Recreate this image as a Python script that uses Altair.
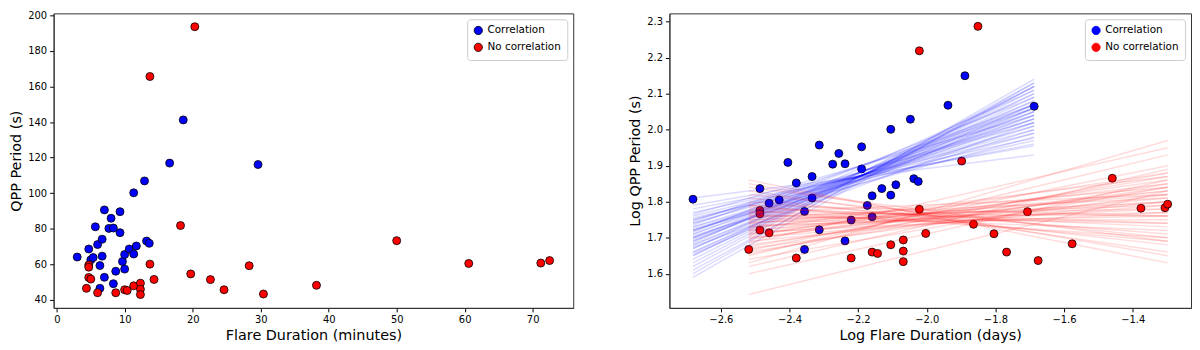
import altair as alt
import pandas as pd
import numpy as np

# ---- data ----
# Correlation group: flare duration (minutes), QPP period (s)
corr_min = [3.0, 4.7, 5.0, 5.35, 5.67, 6.0, 6.34, 6.34, 6.67, 6.67, 7.0, 7.0,
            7.66, 7.98, 8.32, 8.32, 8.67, 9.3, 9.3, 9.66, 9.98, 9.98, 10.65,
            11.31, 11.31, 11.7, 12.9, 13.2, 13.6, 16.6, 18.6, 29.6]
corr_sec = [64.1, 68.6, 62.5, 63.8, 81.1, 71.1, 59.3, 46.5, 74.1, 64.6, 90.6, 52.7,
            80.2, 85.9, 80.4, 49.1, 56.1, 89.6, 77.8, 61.6, 65.5, 57.3, 68.6,
            100.2, 65.8, 70.3, 106.9, 73.1, 71.8, 116.9, 141.2, 116.1]
# No-correlation group
nocorr_min = [4.36, 4.7, 5.0, 4.7, 4.7, 6.0, 8.67, 9.98, 10.35, 11.31, 12.3, 12.3,
              12.3, 13.7, 14.3, 13.7, 18.2, 19.7, 20.3, 22.6, 24.6, 28.3, 30.4,
              38.2, 50.0, 60.6, 71.2, 72.5]
nocorr_sec = [46.5, 52.6, 51.7, 59.6, 58.4, 44.0, 44.0, 45.7, 45.3, 47.9, 49.4, 46.0,
              43.0, 60.1, 51.5, 165.6, 81.8, 54.6, 193.6, 51.4, 45.7, 59.2, 43.3,
              48.2, 73.3, 60.5, 60.7, 62.1]

# bootstrap fit lines (log period at the group's shortest and longest flare)
blue_fit_start = [1.79, 1.81, 1.77, 1.76, 1.75, 1.75, 1.74, 1.74, 1.73, 1.73,
                  1.72, 1.72, 1.72, 1.71, 1.71, 1.70, 1.70, 1.70, 1.69, 1.69,
                  1.68, 1.68, 1.67, 1.67, 1.66, 1.66, 1.65, 1.65, 1.64, 1.63,
                  1.62, 1.61, 1.60, 1.59, 1.745, 1.725, 1.715, 1.705, 1.695, 1.685,
                  1.675, 1.655, 1.735, 1.755, 1.765, 1.78]
blue_fit_end = [1.955, 1.93, 1.977, 1.99, 2.00, 2.02, 2.01, 2.03, 2.02, 1.99,
                2.03, 2.05, 2.01, 2.04, 2.06, 2.05, 2.03, 2.07, 2.06, 2.08,
                2.07, 2.05, 2.08, 2.10, 2.09, 2.07, 2.10, 2.12, 2.11, 2.12,
                2.13, 2.12, 2.14, 2.13, 2.06, 1.98, 2.09, 2.00, 2.04, 2.11,
                2.02, 2.06, 2.07, 1.97, 2.04, 1.96]
red_fit_start = [1.542, 1.60, 1.62, 1.63, 1.64, 1.65, 1.655, 1.66, 1.665, 1.67,
                 1.675, 1.68, 1.685, 1.69, 1.695, 1.70, 1.70, 1.705, 1.71, 1.71,
                 1.715, 1.72, 1.72, 1.725, 1.73, 1.73, 1.735, 1.74, 1.74, 1.745,
                 1.75, 1.75, 1.755, 1.76, 1.76, 1.765, 1.77, 1.775, 1.78, 1.785,
                 1.79, 1.80, 1.81, 1.82, 1.83, 1.84, 1.85, 1.86, 1.79, 1.77]
red_fit_end = [1.83, 1.86, 1.89, 1.97, 1.84, 1.93, 1.88, 1.85, 1.90, 1.82,
               1.87, 1.84, 1.95, 1.80, 1.86, 1.83, 1.79, 1.88, 1.81, 1.85,
               1.77, 1.83, 1.80, 1.87, 1.78, 1.82, 1.76, 1.80, 1.84, 1.75,
               1.79, 1.77, 1.81, 1.74, 1.78, 1.72, 1.76, 1.70, 1.74, 1.73,
               1.69, 1.71, 1.68, 1.70, 1.66, 1.69, 1.65, 1.63, 1.76, 1.82]

groups = ["Correlation", "No correlation"]
colors = ["#0000ff", "#ff0000"]

pts = pd.concat([
    pd.DataFrame({"group": groups[0], "minutes": corr_min, "period": corr_sec}),
    pd.DataFrame({"group": groups[1], "minutes": nocorr_min, "period": nocorr_sec}),
], ignore_index=True)
pts["logdur"] = np.log10(pts["minutes"] / 1440.0)
pts["logper"] = np.log10(pts["period"])

rows = []
for g, starts, ends in [(groups[0], blue_fit_start, blue_fit_end),
                        (groups[1], red_fit_start, red_fit_end)]:
    sub = pts[pts["group"] == g]
    x0, x1 = sub["logdur"].min(), sub["logdur"].max()
    for i, (a, b) in enumerate(zip(starts, ends)):
        lid = f"{g}-{i}"
        rows.append({"id": lid, "group": g, "x": x0, "y": a})
        rows.append({"id": lid, "group": g, "x": x1, "y": b})
lines = pd.DataFrame(rows)

FONT = "DejaVu Sans"

legend = alt.Legend(orient="top-right", title=None, fillColor="white",
                    strokeColor="#cccccc", cornerRadius=3, padding=6, offset=6,
                    labelFontSize=10.5, labelFont=FONT, labelColor="black",
                    symbolType="circle", symbolSize=70, symbolStrokeColor="black",
                    symbolStrokeWidth=0.8, rowPadding=4, symbolOpacity=1)

fill_scale = alt.Scale(domain=groups, range=colors)

H = 297

left = alt.Chart(pts).mark_circle(size=65, stroke="black", strokeWidth=0.8, opacity=1).encode(
    x=alt.X("minutes:Q", title="Flare Duration (minutes)",
            scale=alt.Scale(domain=[-0.47, 75.97], nice=False, zero=False),
            axis=alt.Axis(values=[0, 10, 20, 30, 40, 50, 60, 70])),
    y=alt.Y("period:Q", title="QPP Period (s)",
            scale=alt.Scale(domain=[35.5, 201.1], nice=False, zero=False),
            axis=alt.Axis(values=[40, 60, 80, 100, 120, 140, 160, 180, 200])),
    fill=alt.Fill("group:N", scale=fill_scale, legend=legend),
).properties(width=524, height=H)

xr = alt.Scale(domain=[-2.750, -1.230], nice=False, zero=False)
yr = alt.Scale(domain=[1.505, 2.323], nice=False, zero=False)
xax = alt.Axis(values=[-2.6, -2.4, -2.2, -2.0, -1.8, -1.6, -1.4], format=".1f")
yax = alt.Axis(values=[1.6, 1.7, 1.8, 1.9, 2.0, 2.1, 2.2, 2.3], format=".1f")

rpts = alt.Chart(pts).mark_circle(size=65, stroke="black", strokeWidth=0.8, opacity=1).encode(
    x=alt.X("logdur:Q", title="Log Flare Duration (days)", scale=xr, axis=xax),
    y=alt.Y("logper:Q", title="Log QPP Period (s)", scale=yr, axis=yax),
    fill=alt.Fill("group:N", scale=fill_scale, legend=legend),
)
rlines = alt.Chart(lines).mark_line(strokeWidth=1.5, opacity=0.14).encode(
    x=alt.X("x:Q", scale=xr),
    y=alt.Y("y:Q", scale=yr),
    stroke=alt.Stroke("group:N", scale=alt.Scale(domain=groups, range=colors), legend=None),
    detail="id:N",
)
right = alt.layer(rpts, rlines).properties(width=526, height=H)

chart = alt.hconcat(left, right, spacing=53).resolve_scale(
    fill="independent", stroke="independent"
).resolve_legend(fill="independent").properties(
    padding={"left": 0, "right": 0, "top": 0, "bottom": 0}
).configure_view(stroke="#333333", strokeWidth=1).configure_axis(
    grid=False, domainColor="#333333", tickColor="black", tickSize=4,
    labelFont=FONT, labelFontSize=10, labelColor="black", labelFlush=False,
    titleFont=FONT, titleFontSize=14.5, titleFontWeight="normal", titleColor="black",
    labelPadding=3, titlePadding=4,
)

chart.save("out.html", embed_options={"renderer": "svg", "actions": False})
